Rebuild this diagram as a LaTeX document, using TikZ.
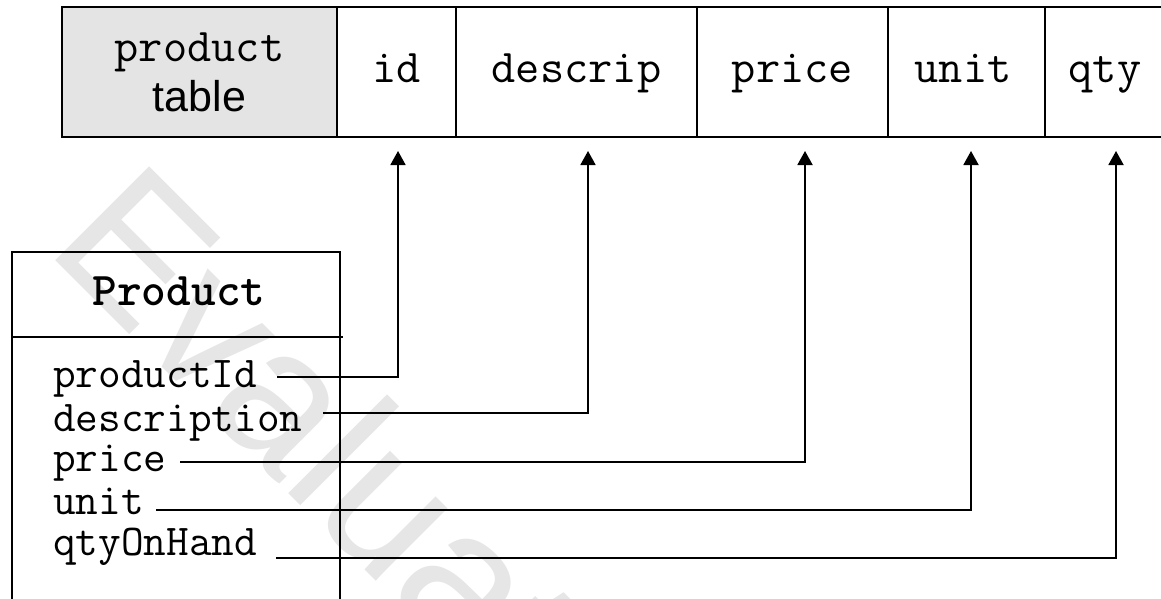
\documentclass[tikz,border=0pt]{standalone}
\usepackage{fontspec}
\setmainfont{Liberation Sans}
\usetikzlibrary{arrows.meta}
\definecolor{cellgray}{HTML}{E4E4E4}
\definecolor{stampgray}{HTML}{E6E6E6}
\tikzset{
  cell/.style={draw, line width=2.6pt, inner sep=0pt},
  colname/.style={anchor=base, inner sep=0pt, font=\ttfamily\fontsize{47}{50}\selectfont},
  classbox/.style={draw, line width=1.5pt, inner sep=0pt},
  attr/.style={anchor=base west, inner sep=0pt, font=\ttfamily\fontsize{44}{46}\selectfont},
  conn/.style={line width=1.8pt, -{Triangle[length=14pt,width=15pt]}},
  stamp/.style={anchor=base west, inner sep=0pt, text=stampgray,
    font=\fontsize{193}{193}\selectfont},
}
\begin{document}
\begin{tikzpicture}[x=1pt, y=-1pt]
  \useasboundingbox (0,0) rectangle (1161,599);
  \fill[white] (0,0) rectangle (1161,599);

  % faint diagonal stamp behind everything
  \node[stamp, rotate=-45] (stamp) at (44,249) {Evaluation};

  % table row
  \node[cell, fill=cellgray, minimum width=275pt, minimum height=130pt] (ptab) at (199.5,72) {};
  \node[cell, minimum width=119pt, minimum height=130pt] (cid) at (396.5,72) {};
  \node[cell, minimum width=241pt, minimum height=130pt] (cdesc) at (576.5,72) {};
  \node[cell, minimum width=191pt, minimum height=130pt] (cprice) at (792.5,72) {};
  \node[cell, minimum width=157pt, minimum height=130pt] (cunit) at (966.5,72) {};
  \node[cell, minimum width=122pt, minimum height=130pt] (cqty) at (1106,72) {};

  \node[colname] (ltab1) at (199.5,62) {product};
  \node[anchor=base, inner sep=0pt, font=\fontsize{43}{50}\selectfont] (ltab2) at (199.5,112) {table};
  \node[colname] (lid) at (396.5,83) {id};
  \node[colname] (ldesc) at (576.5,83) {descrip};
  \node[colname] (lprice) at (792.5,83) {price};
  \node[colname] (lunit) at (963,83) {unit};
  \node[colname] (lqty) at (1105,83) {qty};

  % class box
  \node[classbox, minimum width=328pt, minimum height=400pt] (cls) at (176,452) {};
  \draw[line width=1.5pt] (cls.west |- 0,337) -- ([xshift=2pt]cls.east |- 0,337);
  \node[anchor=base, inner sep=0pt, font=\ttfamily\bfseries\fontsize{47}{50}\selectfont] (cname) at (179,305) {Product};

  \node[attr] (apid) at (53,387) {productId};
  \node[attr] (adesc) at (53,431) {description};
  \node[attr] (aprice) at (53,471) {price};
  \node[attr] (aunit) at (53,514) {unit};
  \node[attr] (aqty) at (53,555) {qtyOnHand};

  % connector ends
  \coordinate (s1) at (277,377);
  \coordinate (s2) at (323,413);
  \coordinate (s3) at (180,462);
  \coordinate (s4) at (156,510);
  \coordinate (s5) at (276,558);
  \coordinate (t1) at (398,151);
  \coordinate (t2) at (588,151);
  \coordinate (t3) at (805,151);
  \coordinate (t4) at (971,151);
  \coordinate (t5) at (1116,151);

  \draw[conn] (s1) -| (t1);
  \draw[conn] (s2) -| (t2);
  \draw[conn] (s3) -| (t3);
  \draw[conn] (s4) -| (t4);
  \draw[conn] (s5) -| (t5);
\end{tikzpicture}
\end{document}
